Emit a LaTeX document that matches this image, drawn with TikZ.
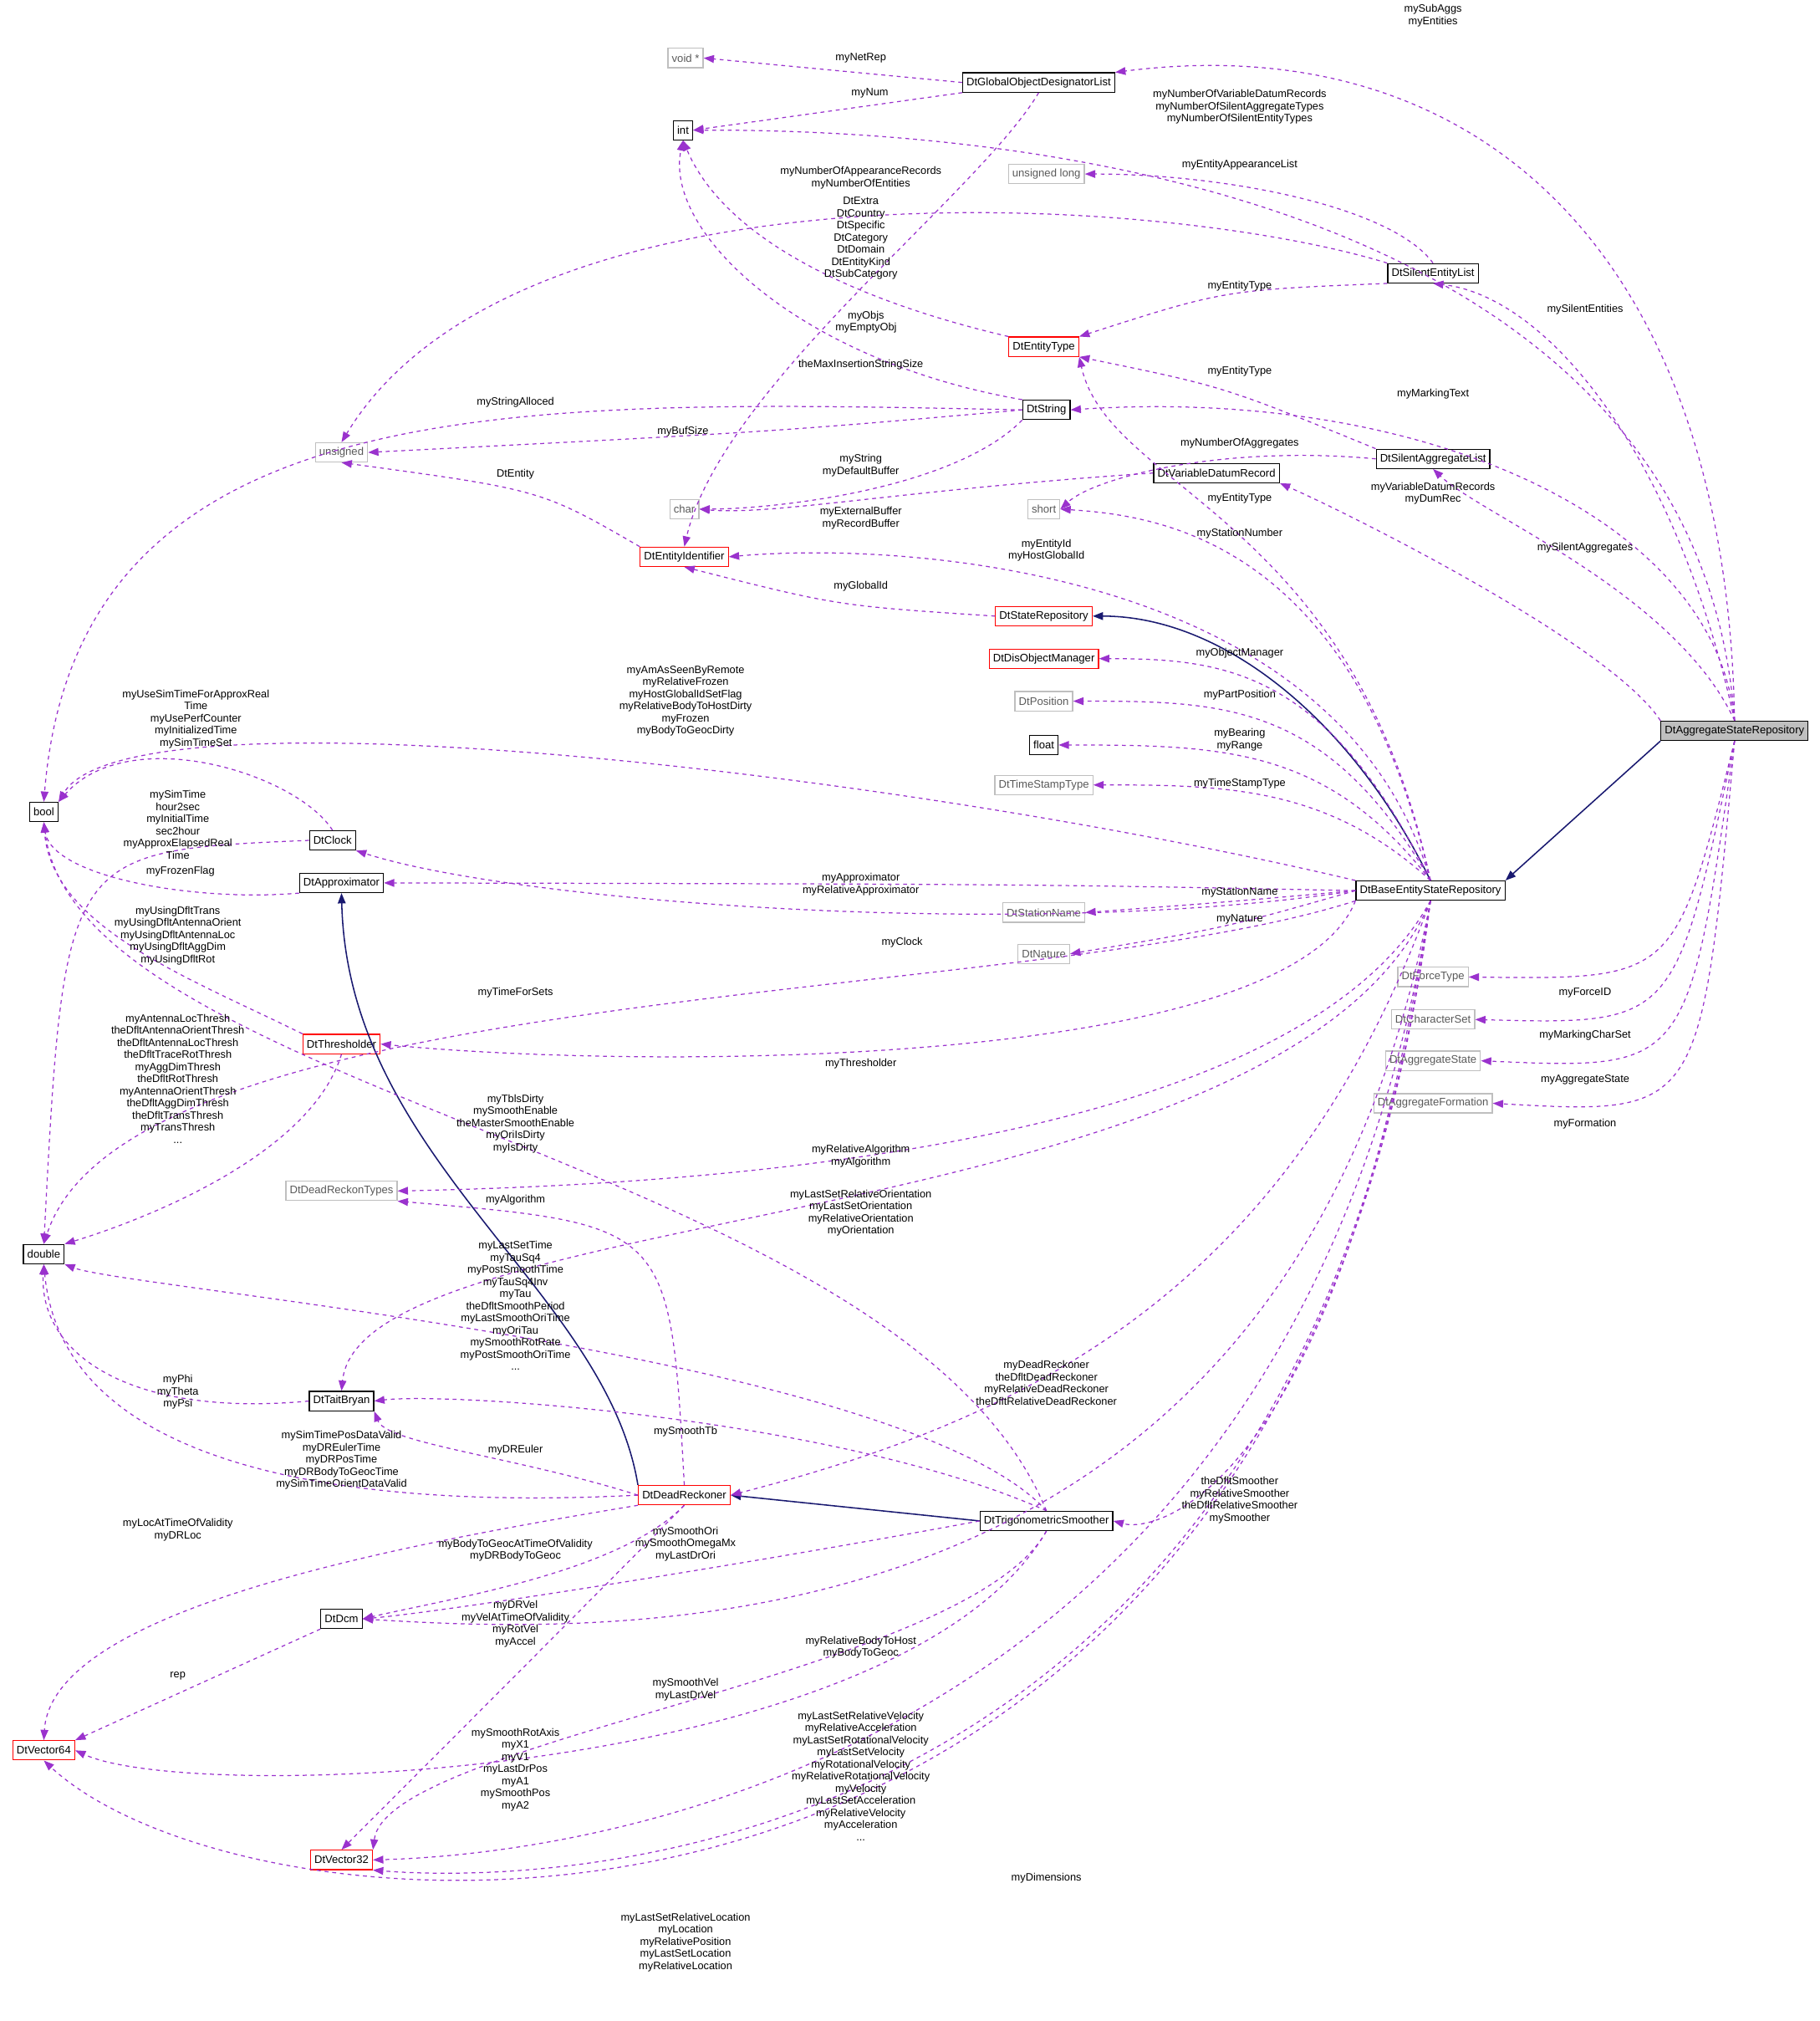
\documentclass[tikz,border=0pt]{standalone}
\usepackage{fontspec}
\setmainfont{Liberation Sans}
\usetikzlibrary{arrows.meta}
\definecolor{depcol}{RGB}{154,50,205}
\definecolor{inhcol}{RGB}{25,25,112}
\definecolor{extcol}{RGB}{191,191,191}
\tikzset{
  cls/.style={draw=black, line width=0.8pt, inner sep=3pt, minimum height=15pt, font=\fontsize{8.5}{9.5}\selectfont},
  ext/.style={cls, draw=extcol, text=black!65},
  bad/.style={cls, draw=red},
  lbl/.style={align=center, inner sep=0pt, font=\fontsize{8.3}{9.4}\selectfont},
  dep/.style={draw=depcol, dashed, line width=0.8pt, -{Triangle[length=8pt,width=6pt]}},
  inh/.style={draw=inhcol, line width=1pt, -{Triangle[length=8pt,width=6pt]}}
}
\begin{document}
\begin{tikzpicture}[x=1pt,y=-1pt]
\useasboundingbox (0,0) rectangle (1412,1568);
%% classes
\node[ext] (void) at (532,45) {void *};
\node[cls] (god) at (806,64) {DtGlobalObjectDesignatorList};
\node[cls] (int) at (530,101) {int};
\node[ext] (ulong) at (812,135) {unsigned long};
\node[cls] (sel) at (1112,212) {DtSilentEntityList};
\node[bad] (etype) at (810,269) {DtEntityType};
\node[cls] (str) at (812,318) {DtString};
\node[ext] (uns) at (265,351) {unsigned};
\node[cls] (sal) at (1112,356) {DtSilentAggregateList};
\node[cls] (vdr) at (944,367) {DtVariableDatumRecord};
\node[ext] (short) at (810,395) {short};
\node[ext] (char) at (531,395) {char};
\node[bad] (eid) at (531,432) {DtEntityIdentifier};
\node[bad] (srep) at (810,478) {DtStateRepository};
\node[bad] (dom) at (810,511) {DtDisObjectManager};
\node[ext] (pos) at (810,544) {DtPosition};
\node[cls] (float) at (810,578) {float};
\node[ext] (tst) at (810,609) {DtTimeStampType};
\node[cls, fill=extcol] (agg) at (1346,567) {DtAggregateStateRepository};
\node[cls] (bool) at (34,630) {bool};
\node[cls] (clock) at (258,652) {DtClock};
\node[cls] (appr) at (265,685) {DtApproximator};
\node[cls] (base) at (1110,691) {DtBaseEntityStateRepository};
\node[ext] (sname) at (810,708) {DtStationName};
\node[ext] (nat) at (810,740) {DtNature};
\node[ext] (ftype) at (1112,758) {DtForceType};
\node[ext] (cset) at (1112,791) {DtCharacterSet};
\node[bad] (thr) at (265,810) {DtThresholder};
\node[ext] (astate) at (1112,823) {DtAggregateState};
\node[ext] (aform) at (1112,856) {DtAggregateFormation};
\node[ext] (drt) at (265,924) {DtDeadReckonTypes};
\node[cls] (dbl) at (34,973) {double};
\node[cls] (tb) at (265,1087) {DtTaitBryan};
\node[bad] (dr) at (531,1160) {DtDeadReckoner};
\node[cls] (sm) at (812,1180) {DtTrigonometricSmoother};
\node[cls] (dcm) at (265,1256) {DtDcm};
\node[bad] (v64) at (34,1358) {DtVector64};
\node[bad] (v32) at (265,1443) {DtVector32};
%% inheritance
\draw[inh] (base.north) .. controls (1050,560) and (950,478) .. (srep.east);
\draw[inh] (agg.south west) -- (base.north east);
\draw[inh] (dr.north west) .. controls (470,1000) and (270,900) .. (appr.south);
\draw[inh] (sm.west) -- (dr.east);
%% members
\draw[dep] (agg.north) .. controls (1340,200) and (1150,20) .. (god.north east);
\draw[dep] (agg.north) .. controls (1320,200) and (900,100) .. (int.east);
\draw[dep] (god.west) -- (void.east);
\draw[dep] (god.south west) -- (int.east);
\draw[dep] (god.south) .. controls (760,150) and (560,300) .. (eid.north);
\draw[dep] (sel.north) .. controls (1080,160) and (950,135) .. (ulong.east);
\draw[dep] (sel.north west) .. controls (900,150) and (400,120) .. (uns.north);
\draw[dep] (sel.south west) .. controls (950,225) .. (etype.north east);
\draw[dep] (agg.north) .. controls (1300,350) and (1200,230) .. (sel.south);
\draw[dep] (etype.north west) .. controls (650,230) and (560,180) .. (int.south);
\draw[dep] (sal.north west) .. controls (950,300) .. (etype.south east);
\draw[dep] (str.north west) .. controls (620,280) and (515,180) .. (int.south);
\draw[dep] (agg.north) .. controls (1330,400) and (1100,300) .. (str.east);
\draw[dep] (str.west) .. controls (400,310) and (60,300) .. (bool.north);
\draw[dep] (str.west) .. controls (600,335) .. (uns.east);
\draw[dep] (str.south west) .. controls (740,380) and (600,395) .. (char.east);
\draw[dep] (sal.west) .. controls (950,345) and (850,370) .. (short.east);
\draw[dep] (agg.north west) .. controls (1250,500) and (1050,400) .. (vdr.south east);
\draw[dep] (agg.north) .. controls (1300,460) and (1150,400) .. (sal.south);
\draw[dep] (base.north) .. controls (1050,400) and (860,380) .. (etype.south east);
\draw[dep] (eid.north west) .. controls (420,380) .. (uns.south);
\draw[dep] (vdr.west) .. controls (700,380) and (600,400) .. (char.east);
\draw[dep] (base.north) .. controls (1050,420) and (900,400) .. (short.east);
\draw[dep] (base.north) .. controls (1040,440) and (700,420) .. (eid.east);
\draw[dep] (srep.west) .. controls (650,470) .. (eid.south);
\draw[dep] (base.north) .. controls (1030,520) and (950,511) .. (dom.east);
\draw[dep] (base.north) .. controls (1030,545) and (950,544) .. (pos.east);
\draw[dep] (base.north) .. controls (1030,580) and (950,578) .. (float.east);
\draw[dep] (base.north) .. controls (1030,610) and (950,609) .. (tst.east);
\draw[dep] (base.north west) .. controls (700,600) and (100,530) .. (bool.north east);
\draw[dep] (clock.north) .. controls (230,600) and (100,560) .. (bool.north east);
\draw[dep] (clock.west) .. controls (50,660) .. (dbl.north);
\draw[dep] (appr.south west) .. controls (150,700) and (40,680) .. (bool.south);
\draw[dep] (base.west) .. controls (800,686) .. (appr.east);
\draw[dep] (base.west) .. controls (950,700) .. (sname.east);
\draw[dep] (base.west) .. controls (950,720) .. (nat.east);
\draw[dep] (base.west) .. controls (800,730) and (400,700) .. (clock.south east);
\draw[dep] (base.south west) .. controls (800,780) and (100,760) .. (dbl.north);
\draw[dep] (thr.north west) .. controls (150,760) and (40,720) .. (bool.south);
\draw[dep] (thr.south) .. controls (240,900) and (100,950) .. (dbl.north east);
\draw[dep] (base.south west) .. controls (1000,830) and (500,830) .. (thr.east);
\draw[dep] (agg.south) .. controls (1300,760) .. (ftype.east);
\draw[dep] (agg.south) .. controls (1300,795) .. (cset.east);
\draw[dep] (agg.south) .. controls (1310,830) .. (astate.east);
\draw[dep] (agg.south) .. controls (1320,865) .. (aform.east);
\draw[dep] (sm.north) .. controls (700,900) and (60,850) .. (bool.south);
\draw[dep] (base.south) .. controls (1000,900) and (500,920) .. (drt.east);
\draw[dep] (dr.north) .. controls (520,950) .. (drt.south east);
\draw[dep] (base.south) .. controls (1000,960) and (280,930) .. (tb.north);
\draw[dep] (sm.north) .. controls (700,1050) and (100,1000) .. (dbl.south east);
\draw[dep] (tb.west) .. controls (100,1100) and (30,1050) .. (dbl.south);
\draw[dep] (dr.west) .. controls (400,1130) and (300,1120) .. (tb.south east);
\draw[dep] (sm.north) .. controls (650,1100) and (350,1080) .. (tb.east);
\draw[dep] (base.south) .. controls (1000,1000) and (800,1100) .. (dr.east);
\draw[dep] (dr.west) .. controls (300,1170) and (50,1150) .. (dbl.south);
\draw[dep] (base.south) .. controls (1040,1150) and (900,1190) .. (sm.east);
\draw[dep] (dr.south west) .. controls (300,1200) and (40,1250) .. (v64.north);
\draw[dep] (dr.south) .. controls (480,1220) and (350,1240) .. (dcm.east);
\draw[dep] (sm.west) .. controls (600,1210) and (350,1250) .. (dcm.east);
\draw[dep] (dr.south) .. controls (450,1250) and (300,1400) .. (v32.north);
\draw[dep] (base.south) .. controls (1000,1280) and (500,1270) .. (dcm.east);
\draw[dep] (dcm.south west) -- (v64.north east);
\draw[dep] (sm.south) .. controls (750,1300) and (300,1350) .. (v32.north east);
\draw[dep] (sm.south) .. controls (700,1380) and (150,1400) .. (v64.east);
\draw[dep] (base.south) .. controls (1000,1400) and (400,1440) .. (v32.east);
\draw[dep] (base.south) .. controls (1010,1470) and (400,1460) .. (v32.south east);
\draw[dep] (base.south) .. controls (1000,1580) and (200,1520) .. (v64.south);
%% labels
\node[lbl] (l1) at (1112,12) {mySubAggs\\myEntities};
\node[lbl] (l2) at (962,83) {myNumberOfVariableDatumRecords\\myNumberOfSilentAggregateTypes\\myNumberOfSilentEntityTypes};
\node[lbl] (l3) at (668,45) {myNetRep};
\node[lbl] (l4) at (675,72) {myNum};
\node[lbl] (l5) at (672,250) {myObjs\\myEmptyObj};
\node[lbl] (l6) at (962,128) {myEntityAppearanceList};
\node[lbl] (l7) at (668,138) {myNumberOfAppearanceRecords\\myNumberOfEntities};
\node[lbl] (l8) at (962,222) {myEntityType};
\node[lbl] (l9) at (1230,240) {mySilentEntities};
\node[lbl] (l10) at (668,185) {DtExtra\\DtCountry\\DtSpecific\\DtCategory\\DtDomain\\DtEntityKind\\DtSubCategory};
\node[lbl] (l11) at (962,288) {myEntityType};
\node[lbl] (l12) at (668,283) {theMaxInsertionStringSize};
\node[lbl] (l13) at (1112,306) {myMarkingText};
\node[lbl] (l14) at (400,312) {myStringAlloced};
\node[lbl] (l15) at (530,335) {myBufSize};
\node[lbl] (l16) at (668,361) {myString\\myDefaultBuffer};
\node[lbl] (l17) at (962,344) {myNumberOfAggregates};
\node[lbl] (l18) at (1112,383) {myVariableDatumRecords\\myDumRec};
\node[lbl] (l19) at (1230,425) {mySilentAggregates};
\node[lbl] (l20) at (962,387) {myEntityType};
\node[lbl] (l21) at (400,368) {DtEntity};
\node[lbl] (l22) at (668,402) {myExternalBuffer\\myRecordBuffer};
\node[lbl] (l23) at (962,414) {myStationNumber};
\node[lbl] (l24) at (812,427) {myEntityId\\myHostGlobalId};
\node[lbl] (l25) at (668,455) {myGlobalId};
\node[lbl] (l26) at (962,507) {myObjectManager};
\node[lbl] (l27) at (962,539) {myPartPosition};
\node[lbl] (l28) at (962,574) {myBearing\\myRange};
\node[lbl] (l29) at (962,608) {myTimeStampType};
\node[lbl] (l30) at (532,544) {myAmAsSeenByRemote\\myRelativeFrozen\\myHostGlobalIdSetFlag\\myRelativeBodyToHostDirty\\myFrozen\\myBodyToGeocDirty};
\node[lbl] (l31) at (152,558) {myUseSimTimeForApproxReal\\Time\\myUsePerfCounter\\myInitializedTime\\mySimTimeSet};
\node[lbl] (l32) at (138,640) {mySimTime\\hour2sec\\myInitialTime\\sec2hour\\myApproxElapsedReal\\Time};
\node[lbl] (l33) at (140,676) {myFrozenFlag};
\node[lbl] (l34) at (668,686) {myApproximator\\myRelativeApproximator};
\node[lbl] (l35) at (962,692) {myStationName};
\node[lbl] (l36) at (962,713) {myNature};
\node[lbl] (l37) at (700,731) {myClock};
\node[lbl] (l38) at (400,770) {myTimeForSets};
\node[lbl] (l39) at (138,726) {myUsingDfltTrans\\myUsingDfltAntennaOrient\\myUsingDfltAntennaLoc\\myUsingDfltAggDim\\myUsingDfltRot};
\node[lbl] (l40) at (138,837) {myAntennaLocThresh\\theDfltAntennaOrientThresh\\theDfltAntennaLocThresh\\theDfltTraceRotThresh\\myAggDimThresh\\theDfltRotThresh\\myAntennaOrientThresh\\theDfltAggDimThresh\\theDfltTransThresh\\myTransThresh\\...};
\node[lbl] (l41) at (668,825) {myThresholder};
\node[lbl] (l42) at (1230,770) {myForceID};
\node[lbl] (l43) at (1230,803) {myMarkingCharSet};
\node[lbl] (l44) at (1230,838) {myAggregateState};
\node[lbl] (l45) at (1230,872) {myFormation};
\node[lbl] (l46) at (400,872) {myTblsDirty\\mySmoothEnable\\theMasterSmoothEnable\\myOriIsDirty\\myIsDirty};
\node[lbl] (l47) at (668,897) {myRelativeAlgorithm\\myAlgorithm};
\node[lbl] (l48) at (400,931) {myAlgorithm};
\node[lbl] (l49) at (668,941) {myLastSetRelativeOrientation\\myLastSetOrientation\\myRelativeOrientation\\myOrientation};
\node[lbl] (l50) at (400,1013) {myLastSetTime\\myTauSq4\\myPostSmoothTime\\myTauSq4Inv\\myTau\\theDfltSmoothPeriod\\myLastSmoothOriTime\\myOriTau\\mySmoothRotRate\\myPostSmoothOriTime\\...};
\node[lbl] (l51) at (138,1080) {myPhi\\myTheta\\myPsi};
\node[lbl] (l52) at (400,1125) {myDREuler};
\node[lbl] (l53) at (532,1111) {mySmoothTb};
\node[lbl] (l54) at (812,1073) {myDeadReckoner\\theDfltDeadReckoner\\myRelativeDeadReckoner\\theDfltRelativeDeadReckoner};
\node[lbl] (l55) at (265,1133) {mySimTimePosDataValid\\myDREulerTime\\myDRPosTime\\myDRBodyToGeocTime\\mySimTimeOrientDataValid};
\node[lbl] (l56) at (962,1164) {theDfltSmoother\\myRelativeSmoother\\theDfltRelativeSmoother\\mySmoother};
\node[lbl] (l57) at (138,1187) {myLocAtTimeOfValidity\\myDRLoc};
\node[lbl] (l58) at (400,1203) {myBodyToGeocAtTimeOfValidity\\myDRBodyToGeoc};
\node[lbl] (l59) at (532,1198) {mySmoothOri\\mySmoothOmegaMx\\myLastDrOri};
\node[lbl] (l60) at (400,1260) {myDRVel\\myVelAtTimeOfValidity\\myRotVel\\myAccel};
\node[lbl] (l61) at (668,1278) {myRelativeBodyToHost\\myBodyToGeoc};
\node[lbl] (l62) at (138,1300) {rep};
\node[lbl] (l63) at (532,1311) {mySmoothVel\\myLastDrVel};
\node[lbl] (l64) at (400,1373) {mySmoothRotAxis\\myX1\\myV1\\myLastDrPos\\myA1\\mySmoothPos\\myA2};
\node[lbl] (l65) at (668,1378) {myLastSetRelativeVelocity\\myRelativeAcceleration\\myLastSetRotationalVelocity\\myLastSetVelocity\\myRotationalVelocity\\myRelativeRotationalVelocity\\myVelocity\\myLastSetAcceleration\\myRelativeVelocity\\myAcceleration\\...};
\node[lbl] (l66) at (812,1457) {myDimensions};
\node[lbl] (l67) at (532,1507) {myLastSetRelativeLocation\\myLocation\\myRelativePosition\\myLastSetLocation\\myRelativeLocation};
\end{tikzpicture}
\end{document}
